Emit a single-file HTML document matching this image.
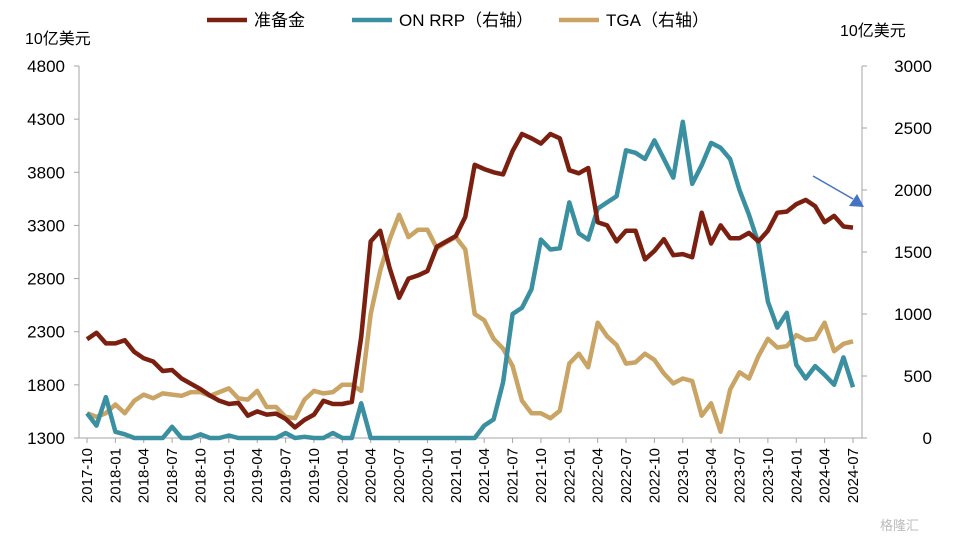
<!DOCTYPE html>
<html><head><meta charset="utf-8"><style>
body{margin:0;background:#fff;width:953px;height:539px;overflow:hidden}
svg{font-family:"Liberation Sans","Noto Sans CJK SC",sans-serif}
</style></head><body>
<svg id="c" width="953" height="539"></svg>
<script>
const months=[];for(let y=2017,m=10;months.length<82;){months.push(y+'-'+String(m).padStart(2,'0'));m++;if(m>12){m=1;y++;}}
const leftTicks=[1300,1800,2300,2800,3300,3800,4300,4800];
const rightTicks=[0,500,1000,1500,2000,2500,3000];
const reserves=[2230,2290,2190,2190,2220,2110,2050,2020,1930,1940,1860,1810,1760,1700,1650,1620,1630,1510,1550,1520,1530,1480,1400,1470,1520,1650,1620,1620,1640,2250,3150,3250,2900,2620,2800,2830,2870,3100,3150,3200,3380,3870,3830,3800,3780,4000,4160,4120,4070,4160,4120,3820,3790,3840,3330,3300,3150,3250,3250,2980,3060,3170,3020,3030,3000,3420,3130,3300,3180,3180,3230,3150,3250,3420,3430,3500,3540,3480,3330,3390,3290,3280];
const onrrp=[200,100,330,50,30,0,0,0,0,90,0,0,30,0,0,20,0,0,0,0,0,40,0,10,0,0,40,0,0,280,0,0,0,0,0,0,0,0,0,0,0,0,100,150,450,1000,1050,1200,1600,1520,1530,1900,1650,1600,1850,1900,1950,2320,2300,2250,2400,2250,2100,2550,2050,2200,2380,2340,2250,2000,1800,1570,1100,890,1010,590,480,580,510,430,650,410];
const tga=[200,170,200,270,200,300,350,320,360,350,340,370,370,340,370,400,320,310,380,250,250,170,160,310,380,360,370,430,430,380,1000,1350,1600,1800,1620,1680,1680,1530,1580,1620,1520,1000,950,800,720,580,300,200,200,160,220,600,680,570,930,820,750,600,610,680,630,520,440,480,460,180,280,50,390,530,480,660,800,730,740,830,790,800,930,700,760,780];
const NS='http://www.w3.org/2000/svg',svg=document.getElementById('c');
const X0=87,X1=853,Y0=438,Y1=66;
const xs=i=>X0+i*(X1-X0)/(months.length-1);
const yl=v=>Y0-(v-1300)/3500*(Y0-Y1);
const yr=v=>Y0-v/3000*(Y0-Y1);
function el(t,a,txt){const e=document.createElementNS(NS,t);for(const k in a)e.setAttribute(k,a[k]);if(txt!=null)e.textContent=txt;svg.appendChild(e);return e;}
let e;
e=el('line',{x1:X0-8,y1:Y1,x2:X0-8,y2:Y0,stroke:'#a6a6a6'});


e=el('line',{x1:X1+9,y1:Y1,x2:X1+9,y2:Y0,stroke:'#a6a6a6'});


e=el('line',{x1:X0-8,y1:Y0,x2:X1+9,y2:Y0,stroke:'#a6a6a6'});


leftTicks.forEach(v=>{
 e=el('text',{x:65,y:yl(v)+6,'text-anchor':'end','font-size':17,fill:'#000'},v);
 
 
 el('line',{x1:X0-13,x2:X0-8,y1:yl(v),y2:yl(v),stroke:'#a6a6a6'});
});
rightTicks.forEach(v=>{
 e=el('text',{x:932,y:yr(v)+6,'text-anchor':'end','font-size':17,fill:'#000'},v);
 
 
 el('line',{x1:X1+9,x2:X1+14,y1:yr(v),y2:yr(v),stroke:'#a6a6a6'});
});
months.forEach((m,i)=>{
 if(i%3)return;
 const x=xs(i);
 el('line',{x1:x,x2:x,y1:Y0,y2:Y0+5,stroke:'#a6a6a6'});
 e=el('text',{x:x+5,y:Y0+10,'text-anchor':'end','font-size':15,fill:'#000',transform:`rotate(-90 ${x+5} ${Y0+10})`},m);
 
 
});
function line(data,yf,col,name){
 const p=data.map((v,i)=>(i?'L':'M')+xs(i).toFixed(1)+','+yf(v).toFixed(1)).join('');
 const l=el('path',{d:p,fill:'none',stroke:col,'stroke-width':4.5,'stroke-linejoin':'round'});
 
 
}
line(tga,yr,'#c9a464','tga-line');
line(onrrp,yr,'#3a8fa0','onrrp-line');
line(reserves,yl,'#7b2010','reserves-line');
e=el('text',{x:25,y:44,'font-size':16},'10亿美元');


e=el('text',{x:840,y:36,'font-size':16},'10亿美元');


const legend=[['准备金','#7b2010',207],['ON RRP（右轴）','#3a8fa0',352],['TGA（右轴）','#c9a464',559]];
legend.forEach(([t,c,x])=>{
 e=el('line',{x1:x,x2:x+40,y1:20,y2:20,stroke:c,'stroke-width':4.5});
 
 
 e=el('text',{x:x+47,y:26,'font-size':17},t);
 
 
});
e=el('line',{x1:813,y1:176,x2:853,y2:199,stroke:'#4472c4','stroke-width':1.5});


e=el('polygon',{points:'849,206 864,207 857,194',fill:'#4472c4'});


e=el('text',{x:880,y:530,'font-size':13,fill:'#bbb'},'格隆汇');


</script>
</body></html>
